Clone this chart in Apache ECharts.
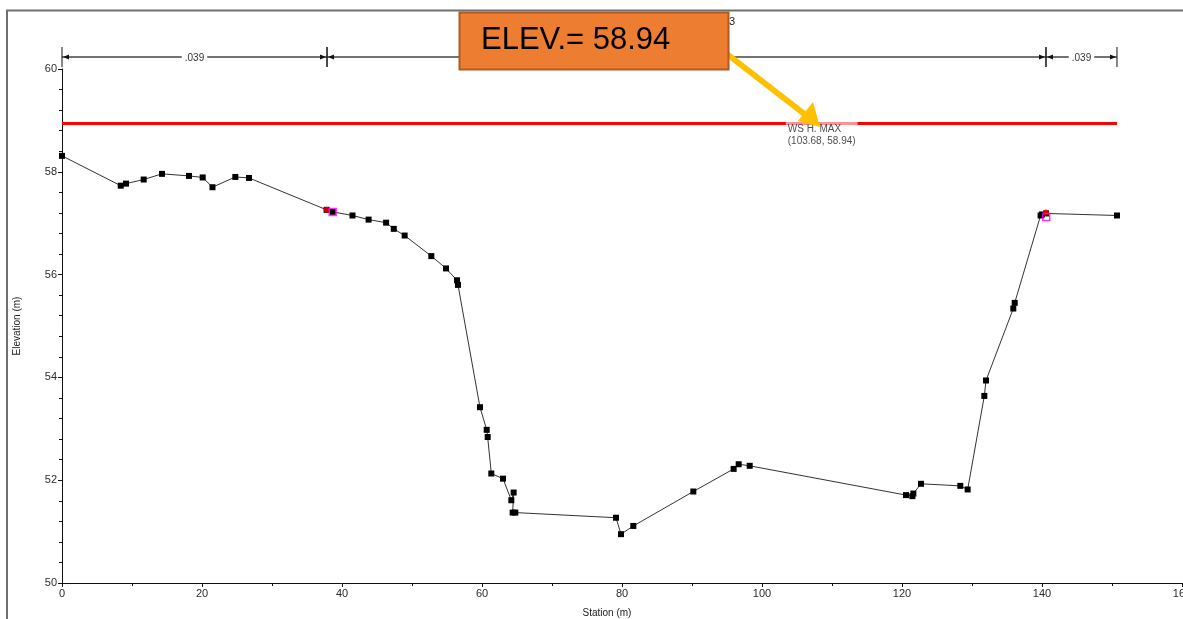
<!DOCTYPE html>
<html>
<head>
<meta charset="utf-8">
<script src="https://cdn.jsdelivr.net/npm/echarts@6/dist/echarts.min.js"></script>
<style>
html,body{margin:0;padding:0;background:#fff;}
#chart{width:1183px;height:619px;}
</style>
</head>
<body>
<div id="chart"></div>
<script>
// ---- data ----
const stations = [0, 8.39, 9.14, 11.67, 14.29, 18.14, 20.1, 21.5, 24.76, 26.71, 37.8, 38.67, 41.5, 43.8, 46.3, 47.4, 48.95, 52.76, 54.86, 56.43, 56.57, 59.71, 60.67, 60.81, 61.33, 63.0, 64.19, 64.52, 64.38, 64.76, 79.14, 79.86, 81.62, 90.19, 95.95, 96.67, 98.24, 120.57, 121.48, 121.62, 122.71, 128.33, 129.38, 131.76, 132.0, 135.9, 136.1, 139.8, 140.0, 140.57, 150.71];
const elevations = [58.31, 57.73, 57.77, 57.85, 57.96, 57.92, 57.89, 57.70, 57.90, 57.88, 57.26, 57.22, 57.15, 57.07, 57.01, 56.89, 56.76, 56.36, 56.12, 55.89, 55.80, 53.42, 52.98, 52.84, 52.13, 52.03, 51.61, 51.76, 51.37, 51.37, 51.27, 50.95, 51.11, 51.78, 52.22, 52.31, 52.28, 51.71, 51.69, 51.74, 51.93, 51.89, 51.82, 53.64, 53.94, 55.34, 55.45, 57.15, 57.17, 57.19, 57.15];
const bankStations = [37.8, 140.57];
const bankElevations = [57.26, 57.21];
const leveeStations = [38.67, 140.6];
const leveeElevations = [57.22, 57.12];
const wsName = 'WS H. MAX';
const wsElev = 58.94;
const wsStation = 103.68;
const nBreaks = [0, 37.86, 140.57, 150.71];
const nLabels = ['.039', '', '.039'];
const xTicks = [0, 20, 40, 60, 80, 100, 120, 140, 160];
const yTicks = [50, 52, 54, 56, 58, 60];
const calloutText = 'ELEV.= 58.94';
const xName = 'Station (m)';
const yName = 'Elevation (m)';

const ground = stations.map((s, i) => [s, elevations[i]]);
const banks = bankStations.map((s, i) => [s, bankElevations[i]]);
const levees = leveeStations.map((s, i) => [s, leveeElevations[i]]);
const wsLine = [[stations[0], wsElev], [stations[stations.length - 1], wsElev]];
const nData = nLabels.map((l, i) => [nBreaks[i], nBreaks[i + 1]]);

const chart = echarts.init(document.getElementById('chart'), null, {renderer: 'canvas'});
const axisFont = {fontFamily: 'Liberation Sans, Arial, sans-serif', fontSize: 11, color: '#2b2b2b'};

const option = {
  animation: false,
  backgroundColor: '#fff',
  grid: {left: 62, right: 1, top: 69, bottom: 36, containLabel: false, outerBoundsMode: 'none'},
  xAxis: {
    type: 'value', min: xTicks[0], max: xTicks[xTicks.length - 1], interval: 20,
    name: xName, nameLocation: 'middle', nameGap: 25,
    nameTextStyle: {fontFamily: 'Liberation Sans, Arial, sans-serif', fontSize: 10, color: '#222', padding: [0, 30, 0, 0]},
    axisLine: {show: true, lineStyle: {color: '#111', width: 1}},
    axisTick: {show: true, length: 4, lineStyle: {color: '#111'}},
    minorTick: {show: true, splitNumber: 2, length: 3, lineStyle: {color: '#111'}},
    splitLine: {show: false},
    axisLabel: Object.assign({margin: 5}, axisFont)
  },
  yAxis: {
    type: 'value', min: yTicks[0], max: yTicks[yTicks.length - 1], interval: 2,
    name: yName, nameLocation: 'middle', nameGap: 40, nameRotate: 90,
    nameTextStyle: {fontFamily: 'Liberation Sans, Arial, sans-serif', fontSize: 10, color: '#222'},
    axisLine: {show: true, lineStyle: {color: '#111', width: 1}},
    axisTick: {show: true, length: 4, lineStyle: {color: '#111'}},
    minorTick: {show: true, splitNumber: 5, length: 3, lineStyle: {color: '#111'}},
    splitLine: {show: false},
    axisLabel: Object.assign({margin: 5}, axisFont)
  },
  series: [
    {
      name: wsName, type: 'line', data: wsLine, showSymbol: false, symbol: 'none',
      lineStyle: {color: '#ff0000', width: 3}, z: 2, silent: true
    },
    {
      name: 'label', type: 'scatter', data: [[wsStation, wsElev]], symbolSize: 0, z: 5,
      label: {
        show: true, position: [-2, -2], align: 'left', verticalAlign: 'top',
        formatter: wsName + '\n(' + wsStation.toFixed(2) + ', ' + wsElev.toFixed(2) + ')',
        fontFamily: 'Liberation Sans, Arial, sans-serif', fontSize: 10, lineHeight: 12, color: '#222',
        backgroundColor: 'rgba(255,255,255,0.72)', padding: [2, 2, 2, 2]
      }
    },
    {
      name: 'Ground', type: 'line', data: ground, symbol: 'rect', symbolSize: 6,
      itemStyle: {color: '#000'}, lineStyle: {color: '#333', width: 1}, z: 3
    },
    {
      name: 'Bank Sta', type: 'scatter', data: banks, symbol: 'circle', symbolSize: 6,
      itemStyle: {color: '#ff0000'}, z: 6
    },
    {
      name: 'Levee', type: 'scatter', data: levees, symbol: 'rect', symbolSize: 7,
      itemStyle: {color: 'rgba(0,0,0,0)', borderColor: '#ff00ff', borderWidth: 1.5}, z: 7
    },
    {
      name: 'n', type: 'custom', data: nData, clip: false, z: 4, silent: true,
      encode: {x: [0, 1]},
      renderItem: function (params, api) {
        const a = api.coord([api.value(0), yTicks[yTicks.length - 1]]);
        const b = api.coord([api.value(1), yTicks[yTicks.length - 1]]);
        const y = a[1] - 12;
        const x1 = a[0], x2 = b[0];
        const label = nLabels[params.dataIndex];
        const children = [
          {type: 'line', shape: {x1: x1, y1: y, x2: x2, y2: y}, style: {stroke: '#444', lineWidth: 1.5}},
          {type: 'polygon', shape: {points: [[x1 + 1, y], [x1 + 7, y - 2.5], [x1 + 7, y + 2.5]]}, style: {fill: '#111'}},
          {type: 'polygon', shape: {points: [[x2 - 1, y], [x2 - 7, y - 2.5], [x2 - 7, y + 2.5]]}, style: {fill: '#111'}},
          {type: 'line', shape: {x1: x1, y1: y - 10, x2: x1, y2: y + 10}, style: {stroke: '#111', lineWidth: 1}},
          {type: 'line', shape: {x1: x2, y1: y - 10, x2: x2, y2: y + 10}, style: {stroke: '#111', lineWidth: 1}}
        ];
        if (label) {
          children.push({type: 'text', style: {
            text: label, x: (x1 + x2) / 2, y: y + 1, align: 'center', verticalAlign: 'middle',
            fill: '#333', font: '10px Liberation Sans, Arial, sans-serif',
            backgroundColor: '#fff', padding: [0, 3]
          }});
        }
        return {type: 'group', children: children};
      }
    }
  ],
  graphic: [
    {type: 'polyline', z: 1, shape: {points: [[7, 619], [7, 10.5], [1183, 10.5]]}, style: {stroke: '#707070', lineWidth: 2, fill: null}},
    {type: 'text', z: 10, left: 729, top: 16, style: {text: '3', fill: '#222', font: '11px Liberation Sans, Arial, sans-serif'}},
    {type: 'line', z: 50, shape: {x1: 727, y1: 54, x2: 807, y2: 116}, style: {stroke: '#FFC000', lineWidth: 6}},
    {type: 'polygon', z: 50, shape: {points: [[820, 127], [798, 121], [813, 102]]}, style: {fill: '#FFC000'}},
    {type: 'rect', z: 60, shape: {x: 459.5, y: 12.5, width: 269, height: 57}, style: {fill: '#ED7D31', stroke: '#AE5A21', lineWidth: 2}},
    {type: 'text', z: 61, left: 481, top: 25, style: {text: calloutText, fill: '#000', font: '31px Liberation Sans, Arial, sans-serif'}}
  ]
};
chart.setOption(option);
</script>
</body>
</html>
